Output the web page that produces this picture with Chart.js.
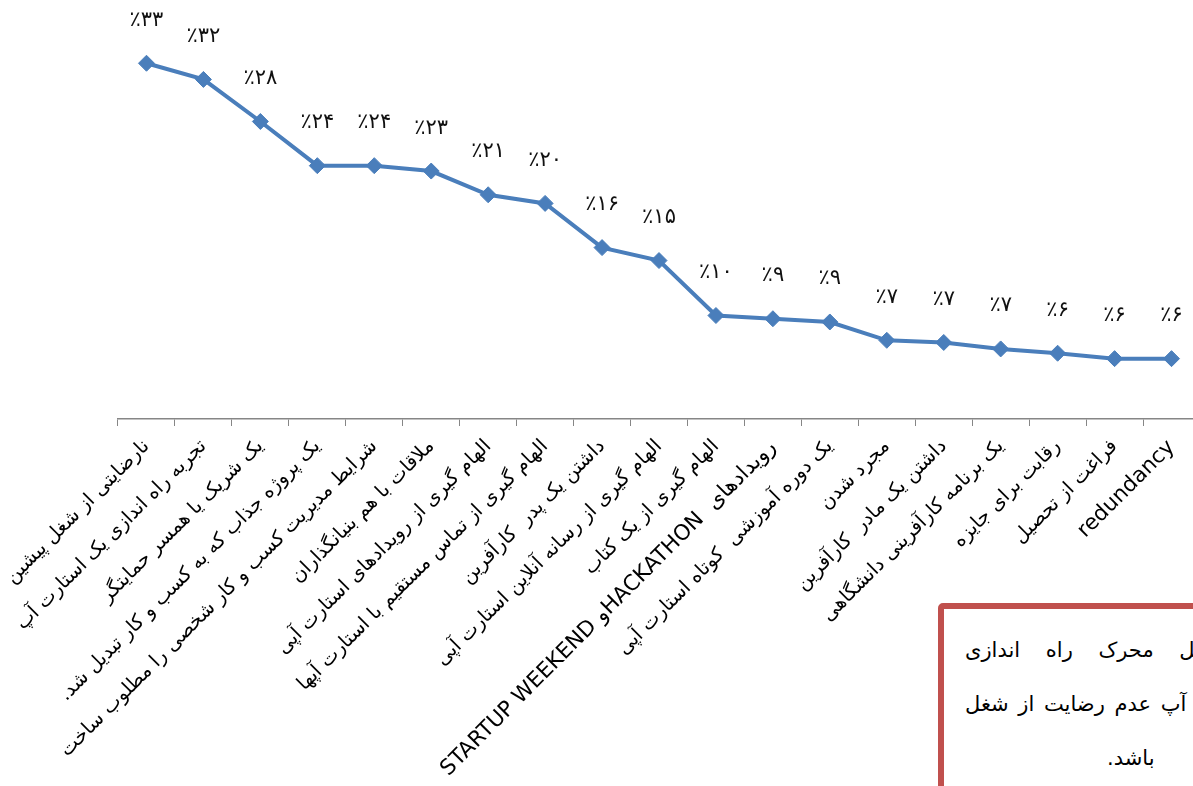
<!DOCTYPE html>
<html lang="fa">
<head>
<meta charset="utf-8">
<script src="https://cdn.jsdelivr.net/npm/chart.js@4"></script>
<style>
  html, body { margin: 0; padding: 0; overflow: hidden; background: #fff; }
  #wrap { position: relative; width: 1193px; height: 786px; overflow: hidden; }
  #chart { position: absolute; left: 0; top: 0; }
  .note {
    position: absolute; left: 938px; top: 603px; width: 420px; height: 260px;
    border: 6px solid #C0504D; border-radius: 5px; padding: 14px 0 0 21px;
    font: 21px 'DejaVu Sans'; color: #000; background: #fff;
  }
  .note div { direction: rtl; text-align: left; white-space: nowrap; line-height: 54px; }
</style>
</head>
<body>
<div id="wrap">
  <canvas id="chart" width="1200" height="786" dir="rtl"></canvas>
  <div class="note">
    <div style="word-spacing: 19px;">مهمترین عامل محرک راه اندازی</div>
    <div style="word-spacing: 3px;">استارت آپ عدم رضایت از شغل</div>
    <div style="padding-left: 142px;">باشد.</div>
  </div>
</div>
<script>
// categories (x axis)
const categories = [
  "نارضایتی از شغل پیشین",
  "تجربه راه اندازی یک استارت آپ",
  "یک شریک یا همسر حمایتگر",
  "یک پروژه جذاب که به کسب و کار تبدیل شد.",
  "شرایط مدیریت کسب و کار شخصی را مطلوب ساخت",
  "ملاقات با هم بنیانگذاران",
  "الهام گیری از رویدادهای استارت آپی",
  "الهام گیری از تماس مستقیم با استارت آپها",
  "داشتن یک پدر  کارآفرین",
  "الهام گیری از رسانه آنلاین استارت آپی",
  "الهام گیری از یک کتاب",
  "رویدادهای  HACKATHONو STARTUP WEEKEND",
  "یک دوره آموزشی  کوتاه استارت آپی",
  "مجرد شدن",
  "داشتن یک مادر  کارآفرین",
  "یک برنامه کارآفرینی دانشگاهی",
  "رقابت برای جایزه",
  "فراغت از تحصیل",
  "redundancy"
];

// percent values (estimated from point positions)
const values = [33.0, 31.5, 27.6, 23.5, 23.5, 23.0, 20.8, 20.0, 15.9, 14.7, 9.6, 9.3, 9.0, 7.3, 7.1, 6.5, 6.1, 5.6, 5.6];

// data labels as printed above each point
const valueLabels = ["٪۳۳", "٪۳۲", "٪۲۸", "٪۲۴", "٪۲۴", "٪۲۳", "٪۲۱", "٪۲۰", "٪۱۶", "٪۱۵", "٪۱۰", "٪۹", "٪۹", "٪۷", "٪۷", "٪۷", "٪۶", "٪۶", "٪۶"];

const lineColor = "#4A7EBB";
const axisColor = "#868686";

const valueLabelPlugin = {
  id: "valueLabels",
  afterDatasetsDraw(chart) {
    const ctx = chart.ctx;
    const meta = chart.getDatasetMeta(0);
    ctx.save();
    ctx.direction = "ltr";
    ctx.font = "21px 'DejaVu Sans'";
    ctx.fillStyle = "#111";
    ctx.textAlign = "center";
    ctx.textBaseline = "middle";
    meta.data.forEach((pt, i) => ctx.fillText(valueLabels[i], pt.x, pt.y - 43));
    ctx.restore();
  }
};

new Chart(document.getElementById("chart"), {
  type: "line",
  data: {
    labels: categories,
    datasets: [{
      data: values,
      borderColor: lineColor,
      backgroundColor: lineColor,
      borderWidth: 4,
      tension: 0,
      pointStyle: "rectRot",
      pointRadius: 8,
      pointBorderWidth: 1,
      pointBackgroundColor: lineColor,
      pointBorderColor: lineColor
    }]
  },
  options: {
    responsive: false,
    animation: false,
    layout: { autoPadding: false, padding: { top: 41.7, left: 118, right: 0, bottom: 0 } },
    plugins: { legend: { display: false }, tooltip: { enabled: false } },
    scales: {
      x: {
        offset: true,
        grid: { offset: true, drawOnChartArea: false, drawTicks: true, tickLength: 7, tickColor: axisColor },
        border: { color: axisColor, width: 1.5 },
        ticks: {
          autoSkip: false,
          minRotation: 45,
          maxRotation: 45,
          padding: 9,
          color: "#000",
          font: c => ({ family: "'DejaVu Sans'", size: /[A-Za-z]/.test(categories[c.index]) ? 21.5 : 19.5 })
        },
        afterFit(scale) {
          scale.height = 367;
          scale.paddingLeft = 0;
          scale.paddingRight = 0;
        }
      },
      y: { display: false, min: 0, max: 35 }
    }
  },
  plugins: [valueLabelPlugin]
});
</script>
</body>
</html>
